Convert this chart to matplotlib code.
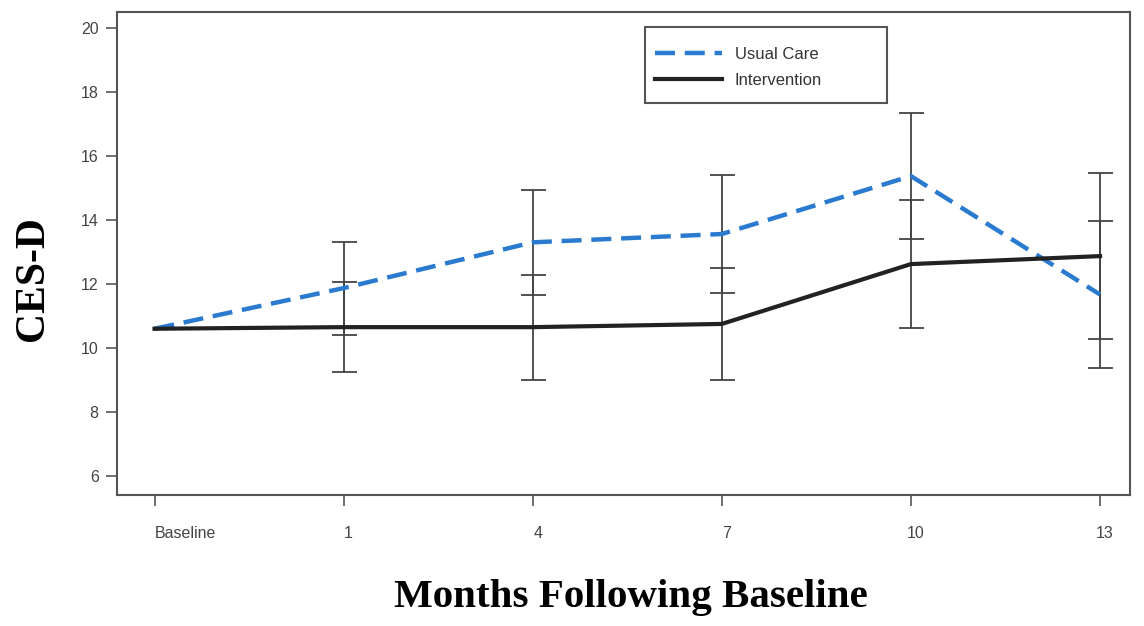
import matplotlib.pyplot as plt
from matplotlib.patches import Rectangle
from matplotlib.transforms import ScaledTranslation

# Дані
months = ["Baseline", "1", "4", "7", "10", "13"]
usual_care = [10.6, 11.87, 13.3, 13.56, 15.37, 11.67]
usual_care_err = [0, 1.45, 1.64, 1.84, 1.98, 2.3]
intervention = [10.6, 10.65, 10.65, 10.75, 12.62, 12.87]
intervention_err = [0, 1.4, 1.64, 1.75, 2.0, 2.6]

x = list(range(len(months)))

fig = plt.figure(figsize=(11.44, 6.26), dpi=100)
ax = fig.add_axes([0.102, 0.209, 0.886, 0.772])

# Планки похибок
ax.errorbar(x[1:], usual_care[1:], yerr=usual_care_err[1:], fmt="none",
            ecolor="#444444", elinewidth=1.3, capsize=9, capthick=1.3, zorder=2)
ax.errorbar(x[1:], intervention[1:], yerr=intervention_err[1:], fmt="none",
            ecolor="#444444", elinewidth=1.3, capsize=9, capthick=1.3, zorder=2)

# Лінії
ax.plot(x, usual_care, color="#2a7bd0", lw=3.2, linestyle=(0, (4.5, 2.2)),
        label="Usual Care", zorder=3)
ax.plot(x, intervention, color="#222222", lw=3, label="Intervention", zorder=3)

ax.set_xlim(-0.2, 5.16)
ax.set_ylim(5.4, 20.5)
ax.set_xticks(x)
ax.set_xticklabels(months)
ax.set_yticks(range(6, 21, 2))

for s in ax.spines.values():
    s.set_color("#555555")
    s.set_linewidth(1.5)
ax.tick_params(axis="both", direction="out", length=8, width=1.2, color="#555555",
               labelsize=11.5, labelcolor="#444444")
ax.tick_params(axis="x", pad=14)
ax.tick_params(axis="y", pad=5)
for lab in ax.get_xticklabels() + ax.get_yticklabels():
    lab.set_fontfamily("Liberation Sans")
shift = ScaledTranslation(5 / 100, 0, fig.dpi_scale_trans)
for i, lab in enumerate(ax.get_xticklabels()):
    if i == 0:
        lab.set_horizontalalignment("left")
    else:
        lab.set_transform(lab.get_transform() + shift)

# Підписи осей
fig.text(33 / 1144, 1 - 279 / 626, "CES-D", rotation=90, ha="center", va="center",
         fontfamily="Liberation Serif", fontweight="bold", fontsize=30)
fig.text(631 / 1144, 1 - 598 / 626, "Months Following Baseline", ha="center",
         va="center", fontfamily="Liberation Serif", fontweight="bold", fontsize=29.5)

# Легенда з окремою рамкою
ax.add_patch(Rectangle((0.521, 0.812), 0.239, 0.157, transform=ax.transAxes,
                       fill=True, facecolor="white", edgecolor="#555555",
                       lw=1.5, zorder=4))
leg = ax.legend(loc="upper left", bbox_to_anchor=(0.531, 0.927), frameon=False,
                prop={"family": "Liberation Sans", "size": 12}, handlelength=4.0,
                borderpad=0, labelspacing=0.62, handletextpad=0.8,
                borderaxespad=0)
leg.set_zorder(5)
for t in leg.get_texts():
    t.set_color("#333333")

fig.savefig("out.png", dpi=100)
